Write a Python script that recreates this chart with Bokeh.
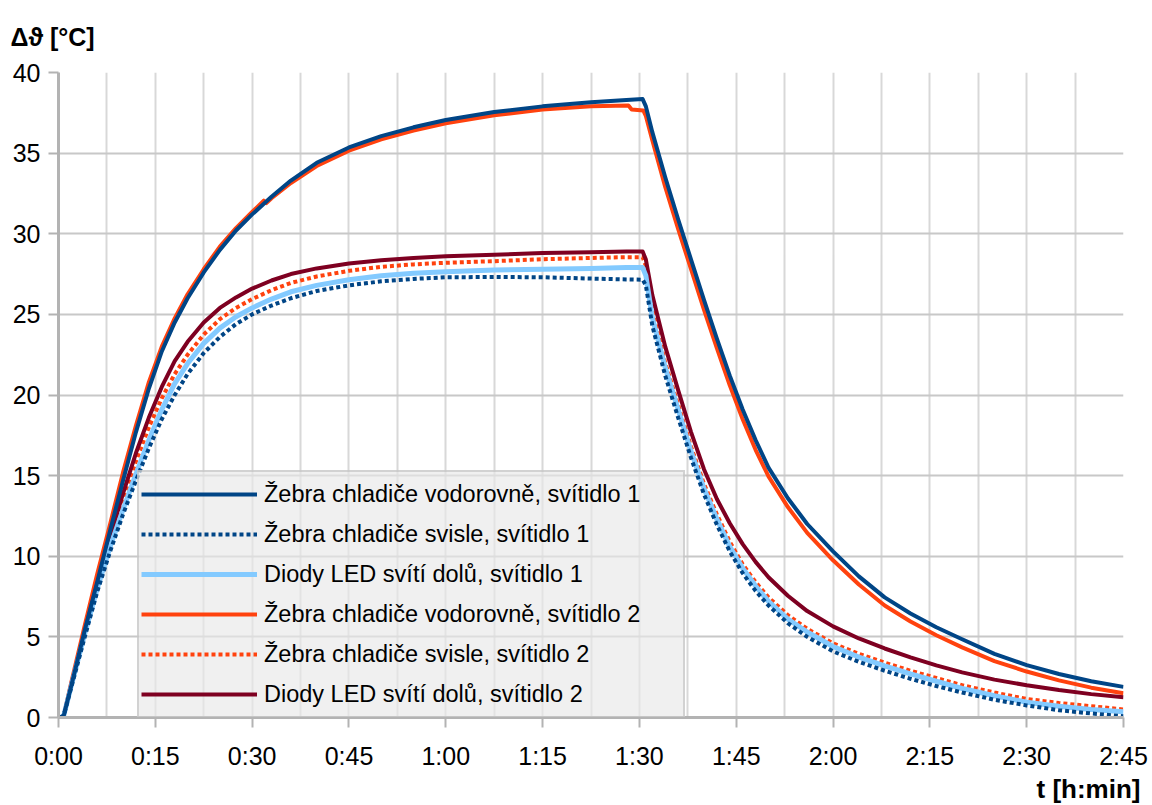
from bokeh.plotting import figure
from bokeh.models import Range1d, FixedTicker, Legend, LegendItem, Title
from bokeh.embed import file_html
from bokeh.resources import INLINE

# ---- data (time in minutes, temperature rise in °C) ----
T = [0.3, 0.8, 2, 4, 6, 8, 10, 12, 14, 16, 18, 20, 22.5, 25, 27.5, 30, 33, 36, 40, 45,
     50, 55, 60, 67.5, 75, 82.5, 88, 90.5, 91, 92, 94, 96, 98, 100, 102, 104, 106, 108,
     110, 113, 116, 120, 124, 128, 132, 136, 140, 145, 150, 155, 160, 165]

ZEBRA_VOD_1 = [0, 0.1, 2.0, 5.3, 8.4, 11.6, 14.7, 17.7, 20.4, 22.7, 24.5, 26.0, 27.6, 29.0,
               30.2, 31.2, 32.3, 33.3, 34.4, 35.35, 36.05, 36.6, 37.05, 37.55, 37.9, 38.15,
               38.3, 38.35,
               37.9, 36.3, 33.5, 30.9, 28.4, 25.9, 23.5, 21.2, 19.1, 17.2, 15.5, 13.6,
               12.0, 10.3, 8.75, 7.45, 6.45, 5.6, 4.85, 3.95, 3.25, 2.7, 2.25, 1.9]

ZEBRA_SVI_1 = [0, 0.1, 1.9, 4.9, 7.8, 10.3, 12.6, 14.7, 16.7, 18.5, 20.0, 21.3, 22.6, 23.6,
               24.4, 25.0, 25.55, 26.0, 26.45, 26.8, 27.05, 27.2, 27.3, 27.32, 27.3, 27.22,
               27.17, 27.15,
               26.8, 24.3, 21.2, 18.6, 16.1, 13.85, 11.95, 10.3, 8.95, 7.85, 6.95, 5.85,
               5.0, 4.1, 3.45, 2.9, 2.4, 1.95, 1.55, 1.1, 0.75, 0.45, 0.25, 0.08]

LED_1 = [0, 0.1, 2.0, 5.1, 8.0, 10.6, 12.9, 15.1, 17.2, 19.1, 20.7, 21.95, 23.2, 24.15,
         24.85, 25.4, 25.95, 26.4, 26.8, 27.15, 27.4, 27.55, 27.65, 27.75, 27.8, 27.85,
         27.9, 27.9,
         27.4, 24.8, 21.7, 19.1, 16.5, 14.2, 12.3, 10.6, 9.25, 8.15, 7.2, 6.1,
         5.3, 4.4, 3.75, 3.2, 2.7, 2.25, 1.8, 1.35, 0.95, 0.7, 0.5, 0.35]

T_VOD_2 = [0.3, 0.8, 2, 4, 6, 8, 10, 12, 14, 16, 18, 20, 22.5, 25, 27.5, 30, 31.8, 32.2,
           33, 36, 40, 45, 50, 55, 60, 67.5, 75, 82.5, 88.3, 88.8, 90.6, 91, 92, 94, 96,
           98, 100, 102, 104, 106, 108, 110, 113, 116, 120, 124, 128, 132, 136, 140,
           145, 150, 155, 160, 165]
ZEBRA_VOD_2 = [0, 0.1, 2.2, 5.6, 8.9, 12.0, 15.2, 18.1, 20.8, 23.0, 24.75, 26.25, 27.8, 29.2,
               30.35, 31.35, 32.05, 31.9, 32.2, 33.15, 34.2, 35.15, 35.85, 36.4, 36.85,
               37.35, 37.7, 37.9, 37.95, 37.7, 37.65,
               37.3, 35.8, 32.9, 30.3, 27.8, 25.3, 22.9, 20.6, 18.5, 16.6, 14.95, 13.05,
               11.45, 9.75, 8.25, 6.95, 5.95, 5.1, 4.35, 3.5, 2.85, 2.3, 1.85, 1.5]

ZEBRA_SVI_2 = [0, 0.1, 2.1, 5.15, 8.2, 11.0, 13.5, 15.9, 18.0, 19.8, 21.3, 22.5, 23.75, 24.7,
               25.4, 25.95, 26.5, 26.95, 27.35, 27.7, 27.95, 28.1, 28.2, 28.3, 28.42, 28.5,
               28.55, 28.55,
               28.0, 25.3, 22.0, 19.4, 16.8, 14.5, 12.6, 10.9, 9.5, 8.4, 7.45, 6.35,
               5.5, 4.6, 3.95, 3.4, 2.9, 2.45, 2.0, 1.55, 1.15, 0.9, 0.7, 0.5]

LED_2 = [0, 0.1, 2.1, 5.2, 8.3, 11.2, 13.9, 16.4, 18.6, 20.5, 22.1, 23.3, 24.5, 25.4,
         26.05, 26.6, 27.1, 27.5, 27.85, 28.15, 28.35, 28.5, 28.6, 28.7, 28.8, 28.85,
         28.9, 28.9,
         28.4, 26.2, 23.0, 20.3, 17.7, 15.4, 13.55, 12.05, 10.75, 9.65, 8.7, 7.55,
         6.6, 5.65, 4.9, 4.28, 3.73, 3.23, 2.8, 2.35, 2.0, 1.7, 1.45, 1.25]

LABELS = ["Žebra chladiče vodorovně, svítidlo 1",
          "Žebra chladiče svisle, svítidlo 1",
          "Diody LED svítí dolů, svítidlo 1",
          "Žebra chladiče vodorovně, svítidlo 2",
          "Žebra chladiče svisle, svítidlo 2",
          "Diody LED svítí dolů, svítidlo 2"]

X_TICKS = [0, 15, 30, 45, 60, 75, 90, 105, 120, 135, 150, 165]
X_TICK_LABELS = ["0:00", "0:15", "0:30", "0:45", "1:00", "1:15", "1:30", "1:45",
                 "2:00", "2:15", "2:30", "2:45"]
X_GRID = [i * 7.5 for i in range(23)]
Y_TICKS = [0, 5, 10, 15, 20, 25, 30, 35, 40]
Y_TITLE = "Δϑ [°C]"
X_TITLE = "t [h:min]"

FONT = "Liberation Sans"
BLUE = "#004586"
ORANGE = "#ff420e"
LBLUE = "#83caff"
DRED = "#7e0021"

p = figure(width=1152, height=805, output_backend="svg", toolbar_location=None,
           x_range=Range1d(0, 165), y_range=Range1d(0, 40),
           min_border_left=58, min_border_right=29, min_border_top=72,
           min_border_bottom=88)
p.outline_line_color = None
p.background_fill_color = "white"
p.border_fill_color = "white"

# axes
for ax in (p.xaxis[0], p.yaxis[0]):
    ax.axis_line_color = "#b3b3b3"
    ax.axis_line_width = 3
    ax.major_tick_line_color = "#b3b3b3"
    ax.major_tick_line_width = 2
    ax.major_tick_out = 10
    ax.major_tick_in = 0
    ax.minor_tick_line_color = None
    ax.major_label_text_font = FONT
    ax.major_label_text_font_size = "25px"
    ax.major_label_text_color = "black"

p.xaxis.ticker = FixedTicker(ticks=X_TICKS)
p.xaxis.major_label_overrides = {t: l for t, l in zip(X_TICKS, X_TICK_LABELS)}
p.xaxis.major_label_standoff = 14
p.yaxis.ticker = FixedTicker(ticks=Y_TICKS)
p.yaxis.major_label_standoff = 8

p.xgrid.ticker = FixedTicker(ticks=X_GRID)
p.xgrid.grid_line_color = "#d8d8d8"
p.xgrid.grid_line_width = 2
p.ygrid.ticker = FixedTicker(ticks=Y_TICKS)
p.ygrid.grid_line_color = "#c8c8c8"
p.ygrid.grid_line_width = 2

LW = 4
r4 = p.line(T_VOD_2, ZEBRA_VOD_2, line_color=ORANGE, line_width=LW, line_join="round")
r5 = p.line(T, ZEBRA_SVI_2, line_color=ORANGE, line_width=LW, line_dash="4 3")
r6 = p.line(T, LED_2, line_color=DRED, line_width=LW, line_join="round")
r3 = p.line(T, LED_1, line_color=LBLUE, line_width=LW + 1, line_join="round")
r2 = p.line(T, ZEBRA_SVI_1, line_color=BLUE, line_width=LW, line_dash="4 3")
r1 = p.line(T, ZEBRA_VOD_1, line_color=BLUE, line_width=LW, line_join="round")

legend = Legend(items=[LegendItem(label=lab, renderers=[r])
                       for lab, r in zip(LABELS, [r1, r2, r3, r4, r5, r6])],
                location=(79, -1))
legend.margin = 0
legend.padding = 2
legend.spacing = 0
legend.glyph_width = 116
legend.glyph_height = 40
legend.label_height = 40
legend.label_width = 417
legend.label_standoff = 7
legend.label_text_font = FONT
legend.label_text_font_size = "23.5px"
legend.label_text_color = "black"
legend.border_line_color = "#b3b3b3"
legend.border_line_width = 2
legend.background_fill_color = "#e8e8e8"
legend.background_fill_alpha = 0.66
p.add_layout(legend)

p.add_layout(Title(text=Y_TITLE, align="left", offset=-48, standoff=41,
                   vertical_align="middle",
                   text_font=FONT, text_font_style="bold", text_font_size="25px",
                   text_color="black"), "above")
p.add_layout(Title(text=X_TITLE, align="right", offset=-17, standoff=-2,
                   text_font=FONT, text_font_style="bold", text_font_size="26px",
                   text_color="black"), "below")

open("out.html", "w").write(file_html(p, INLINE))
